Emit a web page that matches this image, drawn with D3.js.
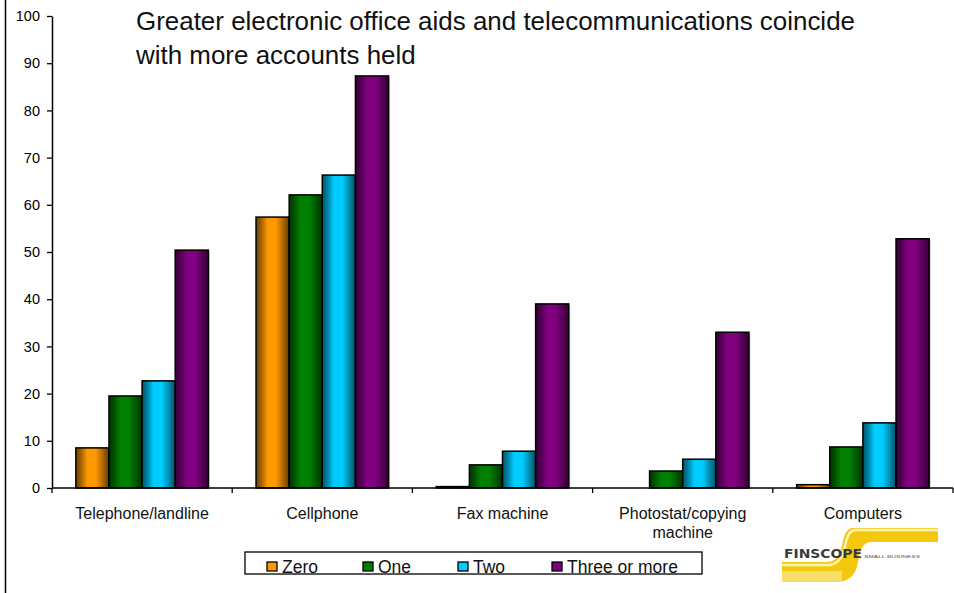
<!DOCTYPE html>
<html>
<head>
<meta charset="utf-8">
<script src="https://cdn.jsdelivr.net/npm/d3@7"></script>
<style>
  html, body { margin: 0; padding: 0; background: #fff; }
  svg { display: block; font-family: "Liberation Sans", Arial, sans-serif; }
</style>
</head>
<body>
<svg id="chart" width="954" height="593"></svg>
<script>
// Share of businesses owning each office aid, by number of accounts held
const categories = ["Telephone/landline", "Cellphone", "Fax machine", "Photostat/copying machine", "Computers"];
const seriesNames = ["Zero", "One", "Two", "Three or more"];
const seriesColors = ["#FF9900", "#008000", "#00CCFF", "#800080"];
const zeroAccounts = [8.5, 57.4, 0.3, 0, 0.7];
const oneAccount = [19.5, 62.1, 4.9, 3.6, 8.7];
const twoAccounts = [22.7, 66.3, 7.8, 6.1, 13.8];
const threePlusAccounts = [50.4, 87.3, 39.0, 33.0, 52.8];
const yTicks = [0, 10, 20, 30, 40, 50, 60, 70, 80, 90, 100];
const titleLines = ["Greater electronic office aids and telecommunications coincide", "with more accounts held"];

const seriesValues = [zeroAccounts, oneAccount, twoAccounts, threePlusAccounts];

const svg = d3.select("#chart");
const W = 954, H = 593;
const plot = { left: 52, right: 953, top: 16, bottom: 488 };

// Outer frame line on the left
svg.append("line").attr("x1", 5.5).attr("x2", 5.5).attr("y1", 0).attr("y2", H)
  .attr("stroke", "#000").attr("stroke-width", 1.5);

// Gradients giving each bar a rounded, cylinder-like shading
const defs = svg.append("defs");
seriesColors.forEach((c, i) => {
  const base = d3.color(c);
  const g = defs.append("linearGradient").attr("id", "grad" + i)
    .attr("x1", "0%").attr("x2", "100%").attr("y1", "0%").attr("y2", "0%");
  const stops = [
    [0, base.darker(2.4)],
    [0.15, base.darker(1.3)],
    [0.35, base],
    [0.6, base],
    [0.8, base.darker(1.0)],
    [1, base.darker(2.6)]
  ];
  stops.forEach(([o, col]) => g.append("stop").attr("offset", o).attr("stop-color", col.formatHex()));
});

const x0 = d3.scaleBand().domain(categories).range([plot.left, plot.right]).paddingInner(0).paddingOuter(0);
const x1 = d3.scaleBand().domain(seriesNames).range([0, x0.bandwidth()]).paddingInner(0).paddingOuter(0.72);
const y = d3.scaleLinear().domain([0, 100]).range([plot.bottom, plot.top]);

// Bars
const groups = svg.append("g").selectAll("g").data(categories).join("g")
  .attr("transform", d => `translate(${x0(d)},0)`);

groups.each(function (cat, ci) {
  const g = d3.select(this);
  const data = seriesNames.map((s, si) => ({ s, si, v: seriesValues[si][ci] })).filter(d => d.v > 0);
  // soft grey shadow on the right edge
  g.selectAll("rect.shadow").data(data).join("rect").attr("class", "shadow")
    .attr("x", d => x1(d.s) + 1.5)
    .attr("y", d => y(d.v) + 1.5)
    .attr("width", x1.bandwidth())
    .attr("height", d => Math.max(0, y(0) - y(d.v) - 1.5))
    .attr("fill", "#c8c8c8");
  g.selectAll("rect.bar").data(data).join("rect").attr("class", "bar")
    .attr("x", d => x1(d.s))
    .attr("y", d => y(d.v))
    .attr("width", x1.bandwidth())
    .attr("height", d => y(0) - y(d.v))
    .attr("fill", d => `url(#grad${d.si})`)
    .attr("stroke", "#000").attr("stroke-width", 1.5);
});

// Y axis
const yAxis = d3.axisLeft(y).tickValues(yTicks).tickSize(5).tickSizeOuter(0).tickPadding(7);
const yg = svg.append("g").attr("transform", `translate(${plot.left},0)`).call(yAxis);
yg.select(".domain").attr("stroke", "#000").attr("stroke-width", 1.5);
yg.selectAll(".tick line").attr("stroke", "#000").attr("stroke-width", 1.3);
yg.selectAll(".tick text").attr("font-size", 14.5).attr("fill", "#000")
  .attr("font-family", "Liberation Sans, Arial, sans-serif");

// X axis: ticks at category boundaries
const xg = svg.append("g");
xg.append("line").attr("x1", plot.left).attr("x2", plot.right).attr("y1", plot.bottom).attr("y2", plot.bottom)
  .attr("stroke", "#000").attr("stroke-width", 1.5);
const boundaries = categories.map(c => x0(c) + x0.bandwidth()).concat([x0(categories[0])]);
xg.selectAll("line.tick").data(boundaries).join("line").attr("class", "tick")
  .attr("x1", d => d).attr("x2", d => d).attr("y1", plot.bottom).attr("y2", plot.bottom + 5)
  .attr("stroke", "#000").attr("stroke-width", 1.3);

// Category labels (wrapping the long one onto two lines)
const labelLines = c => c === "Photostat/copying machine" ? ["Photostat/copying", "machine"] : [c];
svg.append("g").selectAll("text").data(categories).join("text")
  .attr("x", d => x0(d) + x0.bandwidth() / 2)
  .attr("y", 519)
  .attr("text-anchor", "middle")
  .attr("font-size", 16).attr("fill", "#111")
  .each(function (d) {
    d3.select(this).selectAll("tspan").data(labelLines(d)).join("tspan")
      .attr("x", x0(d) + x0.bandwidth() / 2)
      .attr("dy", (l, i) => i === 0 ? 0 : 19)
      .text(l => l);
  });

// Title, condensed to its set width
const titleSel = svg.append("g").selectAll("text").data(titleLines).join("text")
  .attr("x", 136).attr("y", (d, i) => 30 + i * 34)
  .attr("font-size", 25).attr("fill", "#111")
  .text(d => d);
const firstLen = titleSel.nodes()[0].getComputedTextLength();
const squeeze = 719 / firstLen;
titleSel.each(function () {
  const len = this.getComputedTextLength();
  d3.select(this).attr("textLength", len * squeeze).attr("lengthAdjust", "spacingAndGlyphs");
});

// Legend
const legend = svg.append("g").attr("transform", "translate(245,552)");
legend.append("rect").attr("width", 457).attr("height", 22)
  .attr("fill", "#fff").attr("stroke", "#000").attr("stroke-width", 1.3);
const legendX = [22, 118, 213, 307];
const li = legend.selectAll("g.item").data(seriesNames).join("g").attr("class", "item")
  .attr("transform", (d, i) => `translate(${legendX[i]},0)`);
li.append("rect").attr("x", 0).attr("y", 10).attr("width", 10).attr("height", 9)
  .attr("fill", (d, i) => seriesColors[i]).attr("stroke", "#000").attr("stroke-width", 1.3);
li.append("text").attr("x", 15).attr("y", 21).attr("font-size", 17.5).attr("fill", "#111").text(d => d);

// FinScope small business logo
const logo = svg.append("g");
const ribbon = defs.append("linearGradient").attr("id", "ribbon")
  .attr("x1", "0").attr("x2", "0").attr("y1", "0").attr("y2", "1");
ribbon.append("stop").attr("offset", 0).attr("stop-color", "#FFF4B0");
ribbon.append("stop").attr("offset", 0.35).attr("stop-color", "#F6CE1A");
ribbon.append("stop").attr("offset", 1).attr("stop-color", "#F2C200");
logo.append("path")
  .attr("d", "M938,528 L853,528 C846,528 844,536 842,546 C840,556 836,562 826,562 L782,562 L782,582 L836,582 C850,582 856,574 858,562 C860,550 862,542 872,542 L938,542 Z")
  .attr("fill", "#F4C80C");
logo.append("path")
  .attr("d", "M938,530 L856,530 C849,530 847,537 845,546 C843,556 838,565 828,565 L782,565")
  .attr("fill", "none").attr("stroke", "#FFF3B8").attr("stroke-width", 2.5);
logo.append("rect").attr("x", 782).attr("y", 571).attr("width", 60).attr("height", 11)
  .attr("fill", "#FAE690").attr("opacity", 0.7);
logo.append("text").attr("x", 784).attr("y", 558).attr("font-size", 12.5).attr("font-weight", "bold")
  .attr("fill", "#3a3a3a").attr("font-family", "DejaVu Sans, sans-serif")
  .attr("textLength", 78).attr("lengthAdjust", "spacingAndGlyphs").text("FINSCOPE");
logo.append("text").attr("x", 864).attr("y", 558).attr("font-size", 4).attr("fill", "#555")
  .attr("textLength", 56).attr("lengthAdjust", "spacingAndGlyphs").text("SMALL BUSINESS");
</script>
</body>
</html>
